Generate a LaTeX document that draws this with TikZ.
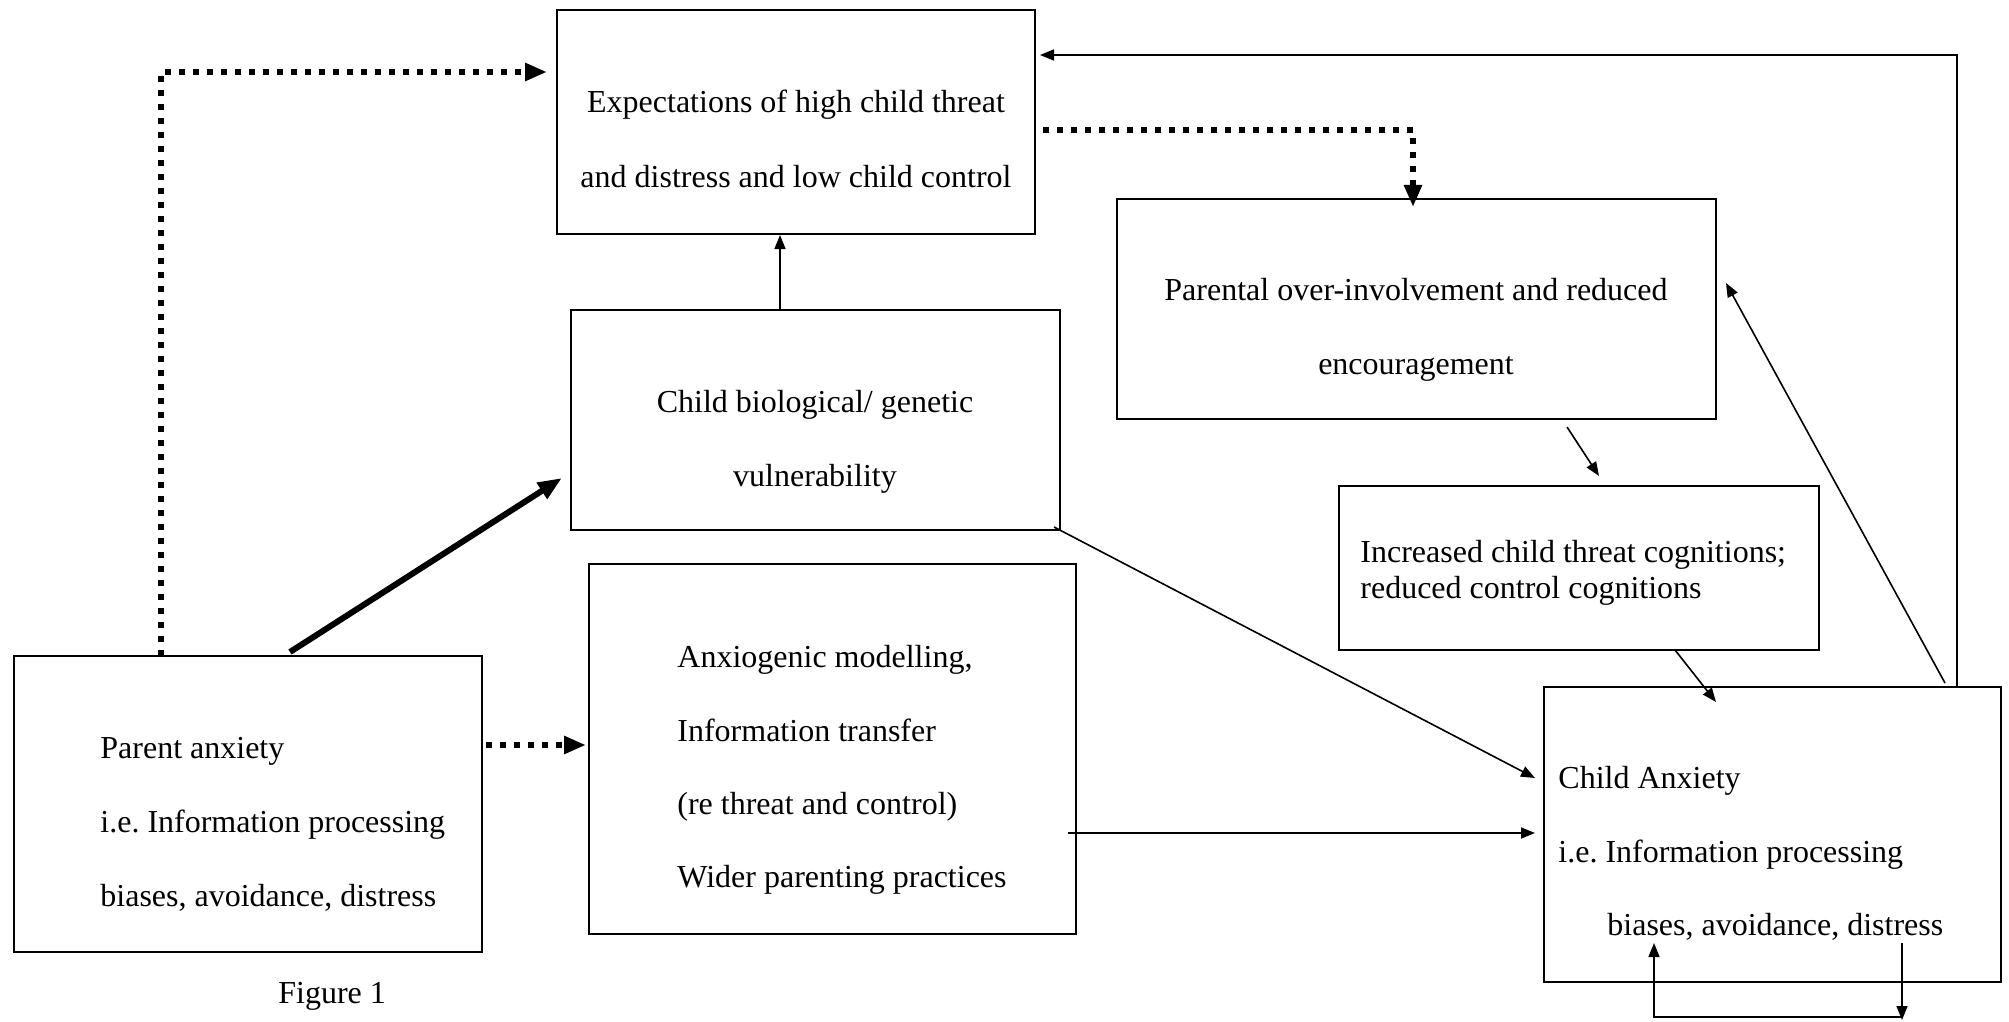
\documentclass[tikz,border=0pt]{standalone}
\usepackage{fontspec}
\setmainfont{Liberation Serif}
\usetikzlibrary{arrows.meta,fit}
\begin{document}
\begin{tikzpicture}[x=0.5pt,y=-0.5pt,
  box/.style={draw, line width=1.25pt, inner sep=0pt},
  txt/.style={font=\fontsize{16}{19}\selectfont, inner sep=0pt, anchor=base},
  ltxt/.style={txt, anchor=base west},
  thinarrow/.style={line width=0.8pt, -{Triangle[length=7pt,width=5.5pt]}},
  dotarrow/.style={line width=3pt, dash pattern=on 3pt off 4pt, -{Triangle[length=11pt,width=8.5pt]}},
  thickarrow/.style={line width=3pt, -{Triangle[length=12pt,width=9pt]}}]
\useasboundingbox (0,0) rectangle (2009,1022);
% boxes
\node[box, fit={(557,10) (1035,234)}] (E) {};
\node[box, fit={(1117,199) (1716,419)}] (P) {};
\node[box, fit={(571,310) (1060,530)}] (B) {};
\node[box, fit={(1339,486) (1819,650)}] (I) {};
\node[box, fit={(589,564) (1076,934)}] (A) {};
\node[box, fit={(14,656) (482,952)}] (PA) {};
\node[box, fit={(1544,687) (2001,982)}] (C) {};
% texts
\node[txt] (E1) at (796,113) {Expectations of high child threat};
\node[txt] (E2) at (796,187) {and distress and low child control};
\node[txt] (P1) at (1416,300) {Parental over-involvement and reduced};
\node[txt] (P2) at (1416,374) {encouragement};
\node[txt] (B1) at (815,412) {Child biological/ genetic};
\node[txt] (B2) at (815,486) {vulnerability};
\node[ltxt] (I1) at (1360,562) {Increased child threat cognitions;};
\node[ltxt] (I2) at (1360,598) {reduced control cognitions};
\node[ltxt] (A1) at (677,667) {Anxiogenic modelling,};
\node[ltxt] (A2) at (677,741) {Information transfer};
\node[ltxt] (A3) at (677,814) {(re threat and control)};
\node[ltxt] (A4) at (677,887) {Wider parenting practices};
\node[ltxt] (PA1) at (100,758) {Parent anxiety};
\node[ltxt] (PA2) at (100,832) {i.e.\ Information processing};
\node[ltxt] (PA3) at (100,906) {biases, avoidance, distress};
\node[ltxt] (C1) at (1558,788) {Child Anxiety};
\node[ltxt] (C2) at (1558,862) {i.e.\ Information processing};
\node[ltxt] (C3) at (1607,935) {biases, avoidance, distress};
\node[ltxt] (F) at (278,1003) {Figure 1};
% connector ends
\coordinate (pa-up) at (161,656);
\coordinate (e-in) at (547,72);
\coordinate (pa-th) at (290,652);
\coordinate (b-in) at (562,478);
\coordinate (pa-r) at (486,745);
\coordinate (a-in) at (586,745);
\coordinate (b-top) at (780,310);
\coordinate (e-bot) at (780,235);
\coordinate (e-r) at (1043,130);
\coordinate (p-top) at (1413,207);
\coordinate (c-top) at (1957,687);
\coordinate (e-rin) at (1040,55);
\coordinate (c-top2) at (1945,683);
\coordinate (p-r) at (1726,283);
\coordinate (p-bot) at (1567,427);
\coordinate (i-top) at (1599,476);
\coordinate (i-bot) at (1675,650);
\coordinate (c-in) at (1716,702);
\coordinate (b-br) at (1054,527);
\coordinate (c-l1) at (1535,778);
\coordinate (a-r) at (1068,833);
\coordinate (c-l2) at (1535,833);
\coordinate (c-d1) at (1902,943);
\coordinate (c-d2) at (1902,1020);
\coordinate (c-d3) at (1902,1017);
\coordinate (c-u) at (1654,943);
% connectors
\draw[dotarrow] (pa-up) |- (e-in);
\draw[thickarrow] (pa-th) -- (b-in);
\draw[dotarrow] (pa-r) -- (a-in);
\draw[thinarrow] (b-top) -- (e-bot);
\draw[dotarrow] (e-r) -| (p-top);
\draw[thinarrow] (c-top) |- (e-rin);
\draw[thinarrow] (c-top2) -- (p-r);
\draw[thinarrow] (p-bot) -- (i-top);
\draw[thinarrow] (i-bot) -- (c-in);
\draw[thinarrow] (b-br) -- (c-l1);
\draw[thinarrow] (a-r) -- (c-l2);
\draw[thinarrow] (c-d1) -- (c-d2);
\draw[thinarrow] (c-d3) -| (c-u);
\end{tikzpicture}
\end{document}
